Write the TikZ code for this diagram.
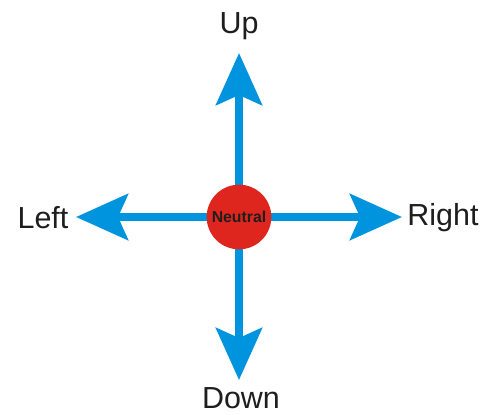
\documentclass[tikz,border=0pt]{standalone}
\usepackage{fontspec}
\setmainfont{Liberation Sans}
\usetikzlibrary{arrows.meta,positioning}
\definecolor{dirblue}{RGB}{0,148,222}
\definecolor{neutralred}{RGB}{222,38,30}
\definecolor{textdark}{RGB}{30,30,30}

\begin{document}
\begin{tikzpicture}[x=0.03cm,y=-0.03cm,
  dir/.style={draw=dirblue,line width=0.24cm,
              -{Stealth[length=1.56cm,width=1.38cm,inset=0.3cm]}},
  lbl/.style={font=\fontsize{26pt}{30pt}\selectfont,text=textdark,
              inner sep=0pt,anchor=base},
  hub/.style={circle,fill=neutralred,minimum size=1.94cm,inner sep=0pt,
              font=\fontsize{13.5pt}{15pt}\selectfont\bfseries,text=textdark}
]
\useasboundingbox (0,0) rectangle (489,414);

% arrow tips
\coordinate (tipup)    at (239,53);
\coordinate (tipdown)  at (239,380);
\coordinate (tipleft)  at (76,217);
\coordinate (tipright) at (402,217);

% arrows first, the hub covers their start
\coordinate (c) at (239,217);
\draw[dir] (c) -- (tipup);
\draw[dir] (c) -- (tipdown);
\draw[dir] (c) -- (tipleft);
\draw[dir] (c) -- (tipright);

\node[hub] (neutral) at (c) {Neutral};

% labels
\node[lbl] (up)    at (239,33)  {Up};
\node[lbl] (down)  at (241,408) {Down};
\node[lbl] (left)  at (43,228)  {Left};
\node[lbl] (right) at (443,225) {Right};
\end{tikzpicture}
\end{document}
